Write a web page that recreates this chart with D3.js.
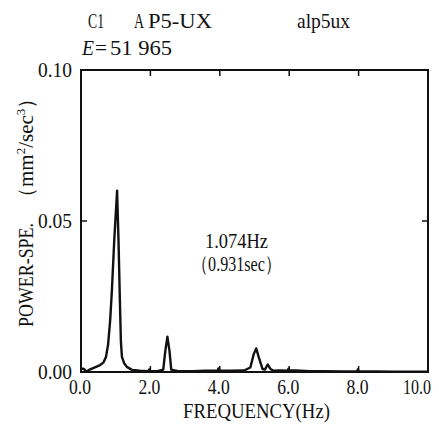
<!DOCTYPE html>
<html>
<head>
<meta charset="utf-8">
<script src="https://cdn.jsdelivr.net/npm/d3@7"></script>
<style>
  body { margin: 0; background: #fff; }
  text { font-family: 'Liberation Serif'; fill: #111; }
</style>
</head>
<body>
<div id="chart"></div>
<script>
// spectrum (Hz, mm^2/sec^3)
var freq = [0.0, 0.08, 0.16, 0.25, 0.35, 0.45, 0.55, 0.65, 0.72, 0.78, 0.84, 0.89, 0.96, 1.04, 1.08, 1.12, 1.15, 1.18, 1.24, 1.32, 1.47, 1.7, 1.94, 1.97, 2.0, 2.2, 2.37, 2.43, 2.49, 2.55, 2.6, 2.8, 3.2, 3.6, 3.94, 3.96, 3.98, 4.3, 4.7, 4.88, 4.98, 5.05, 5.12, 5.23, 5.3, 5.38, 5.46, 5.55, 5.7, 5.96, 5.98, 6.0, 6.2, 6.6, 7.0, 7.5, 7.96, 7.98, 8.0, 8.5, 9.0, 9.5, 10.0];
var power = [0.0012, 0.0010, 0.0001, 0.0008, 0.0013, 0.0018, 0.0023, 0.0032, 0.0050, 0.0090, 0.017, 0.027, 0.044, 0.060, 0.044, 0.024, 0.010, 0.0050, 0.0030, 0.0017, 0.0007, 0.0004, 0.0003, 0.0009, 0.0003, 0.0003, 0.0008, 0.0070, 0.0117, 0.0070, 0.0008, 0.0003, 0.0003, 0.0004, 0.0004, 0.0012, 0.0004, 0.0004, 0.0005, 0.0015, 0.0060, 0.0078, 0.0050, 0.0010, 0.0008, 0.0025, 0.0010, 0.0004, 0.0005, 0.0004, 0.0011, 0.0006, 0.0005, 0.0003, 0.0003, 0.0002, 0.0002, 0.0009, 0.0002, 0.0002, 0.0001, 0.0001, 0.0001];
var xTicks = [0, 2, 4, 6, 8, 10];
var yTicks = [0, 0.05, 0.10];
var peakLabel = ["1.074Hz", "（0.931sec）"];

var width = 439, height = 424;
var svg = d3.select("#chart").append("svg")
  .attr("width", width)
  .attr("height", height);

var x = d3.scaleLinear().domain([0, 10]).range([81, 428]);
var y = d3.scaleLinear().domain([0, 0.10]).range([372, 70]);

// frame
svg.append("rect")
  .attr("x", x(0)).attr("y", y(0.10))
  .attr("width", x(10) - x(0)).attr("height", y(0) - y(0.10))
  .attr("fill", "none").attr("stroke", "#111").attr("stroke-width", 2);

// inward ticks on all four sides
svg.append("g").selectAll("line")
  .data(xTicks.slice(1, -1))
  .enter().append("line")
  .attr("x1", function(d) { return x(d); }).attr("x2", function(d) { return x(d); })
  .attr("y1", y(0.10)).attr("y2", y(0.10) + 6)
  .attr("stroke", "#111").attr("stroke-width", 1.5);
svg.append("g").selectAll("line")
  .data(xTicks.slice(1, -1))
  .enter().append("line")
  .attr("x1", function(d) { return x(d); }).attr("x2", function(d) { return x(d); })
  .attr("y1", y(0)).attr("y2", y(0) - 6)
  .attr("stroke", "#111").attr("stroke-width", 1.5);
svg.append("line")
  .attr("x1", x(0)).attr("x2", x(0) + 6)
  .attr("y1", y(0.05)).attr("y2", y(0.05))
  .attr("stroke", "#111").attr("stroke-width", 1.5);
svg.append("line")
  .attr("x1", x(10)).attr("x2", x(10) - 6)
  .attr("y1", y(0.05)).attr("y2", y(0.05))
  .attr("stroke", "#111").attr("stroke-width", 1.5);

// tick labels, squeezed to the narrow face of the scan
svg.append("g").selectAll("text")
  .data(xTicks)
  .enter().append("text")
  .attr("x", function(d) { return d === 10 ? 403 : x(d) - 12; })
  .attr("y", 394)
  .attr("font-size", 20)
  .attr("textLength", function(d) { return d === 10 ? 28 : 22; })
  .attr("lengthAdjust", "spacingAndGlyphs")
  .text(function(d) { return d3.format(".1f")(d); });

svg.append("g").selectAll("text")
  .data(yTicks)
  .enter().append("text")
  .attr("x", x(0) - 43)
  .attr("y", function(d) { return y(d) + 7; })
  .attr("font-size", 21)
  .attr("textLength", 34)
  .attr("lengthAdjust", "spacingAndGlyphs")
  .text(function(d) { return d3.format(".2f")(d); });

// spectrum line
var pts = freq.map(function(f, i) { return [f, power[i]]; });
svg.append("path")
  .datum(pts)
  .attr("fill", "none")
  .attr("stroke", "#111")
  .attr("stroke-width", 2.4)
  .attr("stroke-linejoin", "round")
  .attr("d", d3.line()
    .x(function(d) { return x(d[0]); })
    .y(function(d) { return y(d[1]); }));

// peak annotation
svg.append("g").selectAll("text")
  .data(peakLabel)
  .enter().append("text")
  .attr("x", function(d, i) { return i ? 192 : 205; })
  .attr("y", function(d, i) { return i ? 271 : 248; })
  .attr("font-size", 21)
  .attr("textLength", function(d, i) { return i ? 89 : 63; })
  .attr("lengthAdjust", "spacingAndGlyphs")
  .text(function(d) { return d; });

// header
function label(txt, px, py, len) {
  var t = svg.append("text").attr("x", px).attr("y", py).attr("font-size", 21).text(txt);
  if (len) t.attr("textLength", len).attr("lengthAdjust", "spacingAndGlyphs");
  return t;
}
label("C1", 88, 28, 16);
label("A", 134, 28, 10);
label("P5-UX", 148, 28, 64);
label("alp5ux", 297, 28, 53);
label("E", 82, 55, 12).attr("font-style", "italic");
label("=", 95, 55, 12);
label("51 965", 110, 55, 62);

// axis titles
svg.append("text")
  .attr("x", 183).attr("y", 418)
  .attr("font-size", 20)
  .attr("textLength", 147)
  .attr("lengthAdjust", "spacingAndGlyphs")
  .text("FREQUENCY(Hz)");

svg.append("text")
  .attr("transform", "translate(33,327) rotate(-90)")
  .attr("font-size", 21)
  .attr("textLength", 104)
  .attr("lengthAdjust", "spacingAndGlyphs")
  .text("POWER-SPE.");

var yl = svg.append("text")
  .attr("transform", "translate(33,208) rotate(-90)")
  .attr("font-size", 21);
yl.append("tspan").text("（mm");
yl.append("tspan").attr("font-size", 13).attr("dy", -8).text("2");
yl.append("tspan").attr("dy", 8).text("/sec");
yl.append("tspan").attr("font-size", 13).attr("dy", -8).text("3");
yl.append("tspan").attr("dy", 8).text("）");
</script>
</body>
</html>
